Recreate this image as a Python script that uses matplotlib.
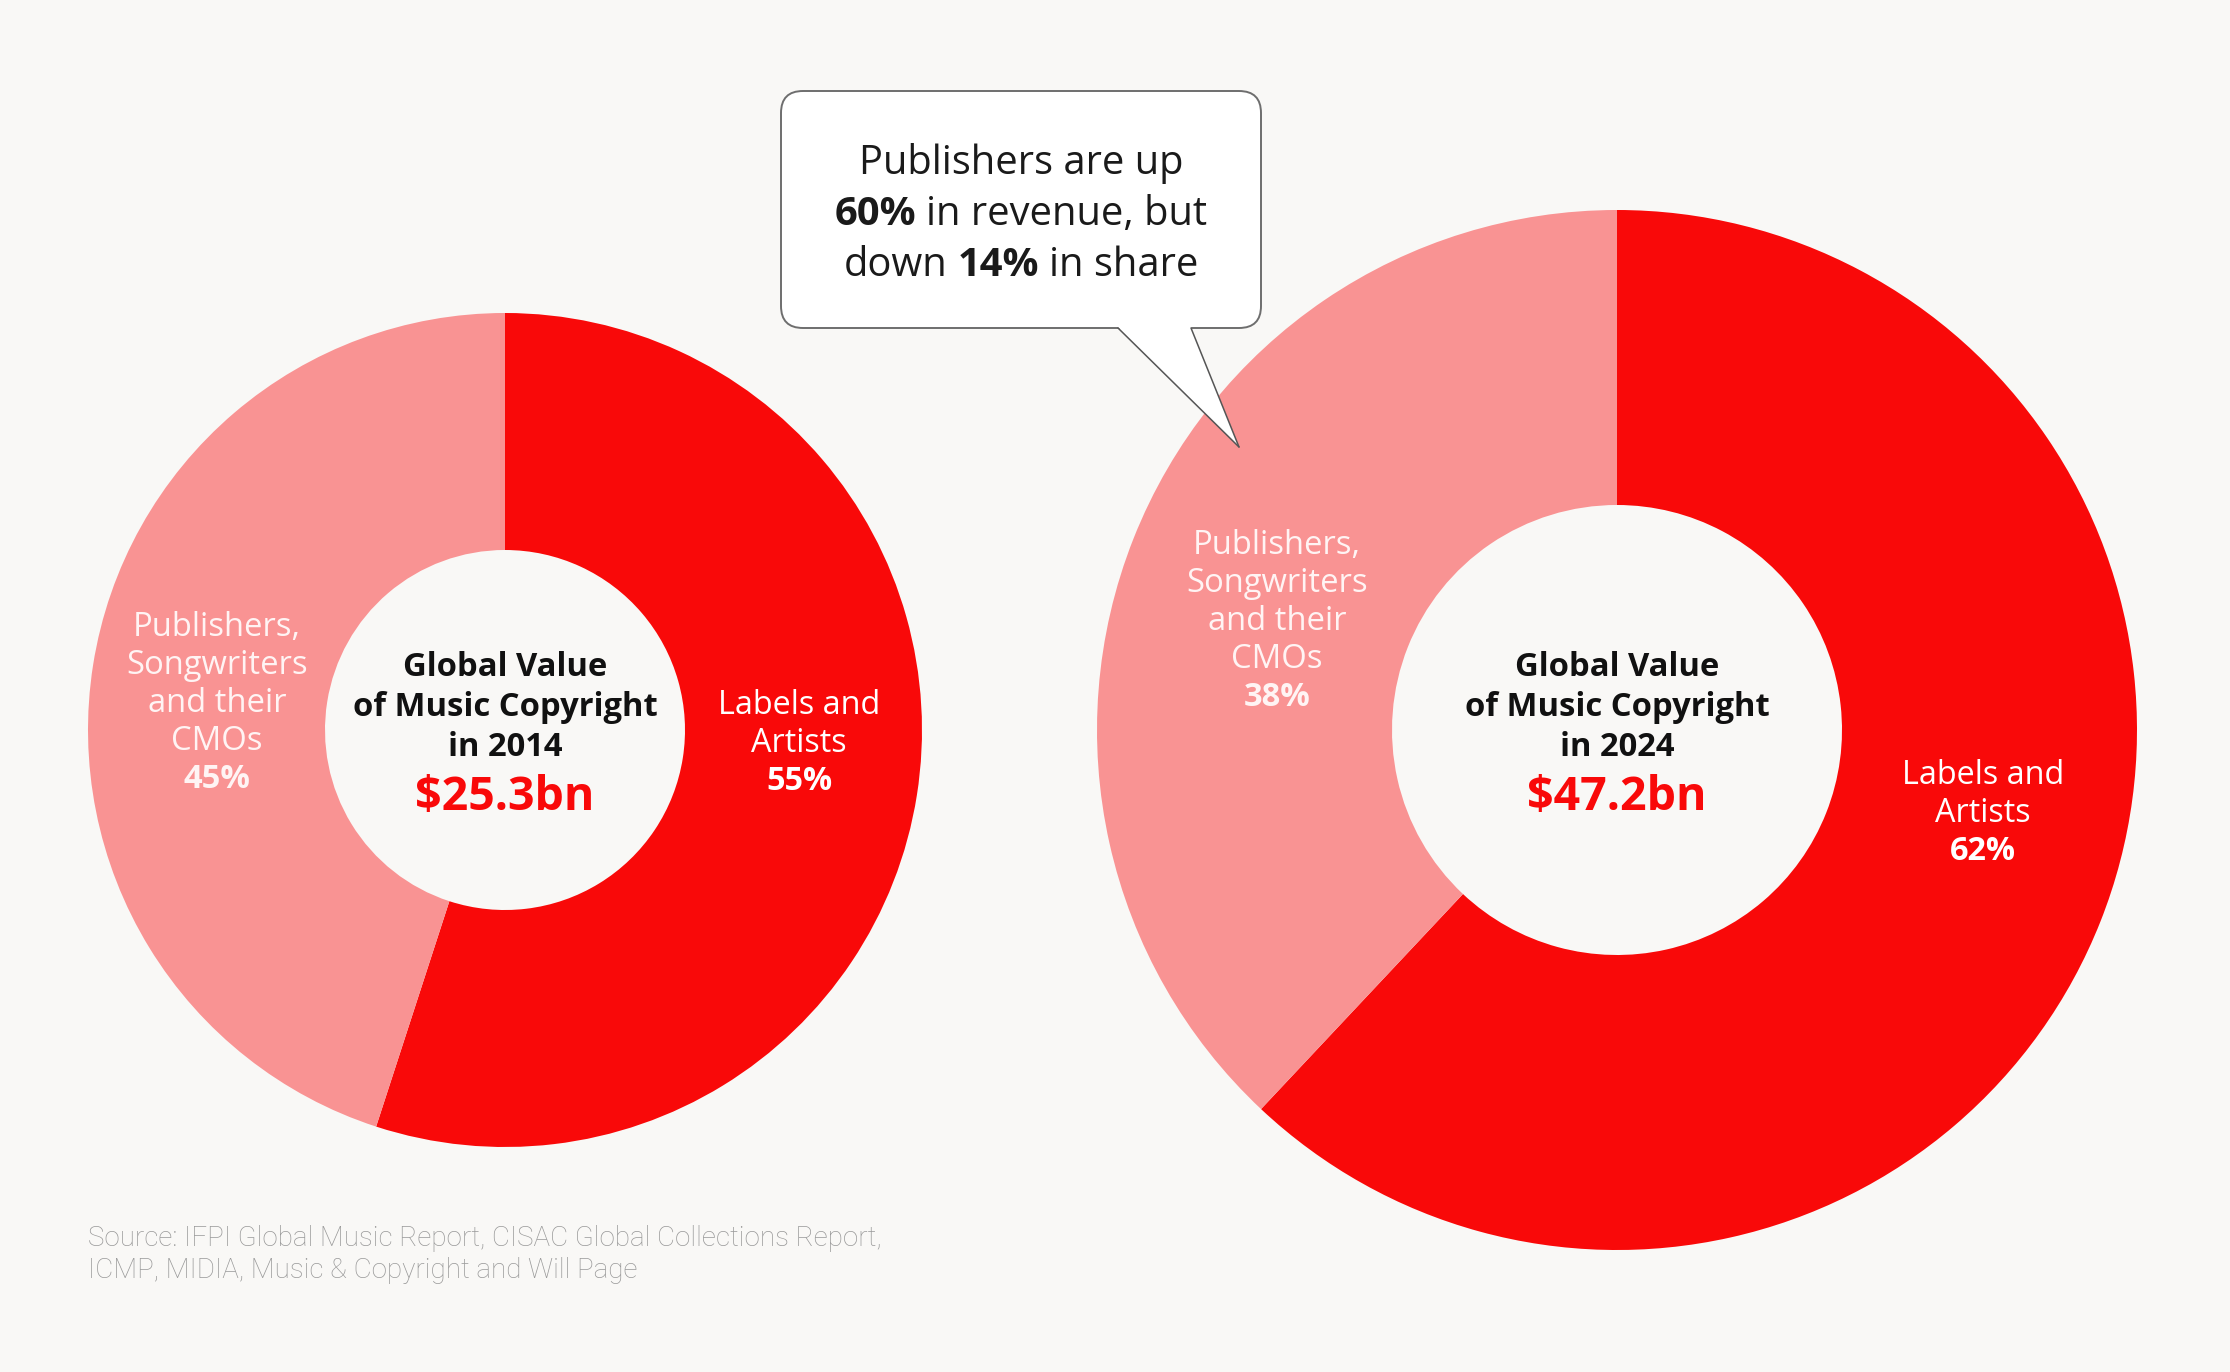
import matplotlib
matplotlib.use("Agg")
import matplotlib.pyplot as plt
from matplotlib.patches import FancyBboxPatch, Polygon

# data
years = ["2014", "2024"]
totals = ["$25.3bn", "$47.2bn"]
labels_share = [55, 62]
publishers_share = [45, 38]
labels_name = ["Labels and", "Artists"]
publishers_name = ["Publishers,", "Songwriters", "and their", "CMOs"]
callout_lines = [
    [("Publishers are up", "normal")],
    [("60%", "bold"), ("in revenue, but", "normal")],
    [("down", "normal"), ("14%", "bold"), ("in share", "normal")],
]
source_text = ("Source: IFPI Global Music Report, CISAC Global Collections Report,\n"
               "ICMP, MIDIA, Music & Copyright and Will Page")

RED = "#F90909"
PINK = "#F99393"
BG = "#F9F8F6"
FONT = "Open Sans"

W, H = 2230, 1372
plt.rcParams["font.family"] = [FONT, "DejaVu Sans"]

fig = plt.figure(figsize=(W / 100, H / 100), dpi=100, facecolor=BG)
ax = fig.add_axes([0, 0, 1, 1])
ax.set_facecolor(BG)


def iy(y):
    # image row -> data y (y up)
    return H - y


# donut geometry (pixels): centre x, centre y, outer r, inner r
donuts = [(505, 730, 417, 180), (1617, 730, 520, 225)]

for i, (cx, cy, R, r) in enumerate(donuts):
    ax.pie([labels_share[i], publishers_share[i]], colors=[RED, PINK],
           startangle=90, counterclock=False, radius=R, center=(cx, iy(cy)),
           wedgeprops=dict(width=R - r, linewidth=0), frame=False)

ax.set_xlim(0, W)
ax.set_ylim(0, H)
ax.set_aspect("equal")
ax.axis("off")

# centre texts
for i, (cx, cy, R, r) in enumerate(donuts):
    for k, line in enumerate(["Global Value", "of Music Copyright", "in " + years[i]]):
        ax.text(cx, iy(667 + 40 * k), line, ha="center", va="center",
                fontsize=23.6, fontweight="bold", color="#111111")
    ax.text(cx, iy(797), totals[i], ha="center", va="center",
            fontsize=33.5, fontweight="bold", color=RED)

# segment labels
label_pos = [(799, 705), (1983, 775)]
pub_pos = [(217, 627), (1277, 545)]
for i in range(2):
    x, y = label_pos[i]
    for k, s in enumerate(labels_name):
        ax.text(x, iy(y + 38 * k), s, ha="center", va="center",
                fontsize=23.3, color="white")
    ax.text(x, iy(y + 38 * 2), f"{labels_share[i]}%", ha="center", va="center",
            fontsize=23.3, fontweight="bold", color="white")
    x, y = pub_pos[i]
    for k, s in enumerate(publishers_name):
        ax.text(x, iy(y + 38 * k), s, ha="center", va="center",
                fontsize=23.6, color="#FFF4F4")
    ax.text(x, iy(y + 38 * 4), f"{publishers_share[i]}%", ha="center", va="center",
            fontsize=23.6, fontweight="bold", color="#FFF4F4")

# callout box
bx0, by0, bx1, by1 = 781, 91, 1261, 328
box = FancyBboxPatch((bx0, iy(by1)), bx1 - bx0, by1 - by0,
                     boxstyle="round,pad=0,rounding_size=22",
                     facecolor="white", edgecolor="#6E6E6E", linewidth=1.4, zorder=5)
ax.add_patch(box)
tail_a, tail_b, tip = (1118, 328), (1191, 328), (1239, 447)
ax.add_patch(Polygon([(tail_a[0] + 1, iy(326)), (tail_b[0] - 1, iy(326)),
                      (tip[0], iy(tip[1]))], closed=True, facecolor="white",
                     edgecolor="none", zorder=6))
ax.add_patch(Polygon([(tail_a[0], iy(tail_a[1] - 1)), (tail_b[0], iy(tail_b[1] - 1)),
                      (tip[0], iy(tip[1]))], closed=True, facecolor="white",
                     edgecolor="none", zorder=6))
for p in (tail_a, tail_b):
    ax.plot([p[0], tip[0]], [iy(p[1]), iy(tip[1])], color="#555555", lw=1.1,
            zorder=7, solid_capstyle="round")

renderer = fig.canvas.get_renderer()


def width_of(s, weight, size):
    t = ax.text(0, 0, s, fontsize=size, fontweight=weight)
    w = t.get_window_extent(renderer).width
    t.remove()
    return w


csize = 28.7
space = width_of("x x", "normal", csize) - width_of("xx", "normal", csize)
cx_box = (bx0 + bx1) / 2
for k, parts in enumerate(callout_lines):
    ws = [width_of(s, wt, csize) for s, wt in parts]
    total = sum(ws) + space * (len(parts) - 1)
    x = cx_box - total / 2
    for (s, wt), w in zip(parts, ws):
        ax.text(x, iy(163 + 51.5 * k), s, ha="left", va="center", fontsize=csize,
                fontweight=wt, color="#1A1A1A", zorder=8)
        x += w + space

# source
ax.text(88, iy(1225), source_text, ha="left", va="top", fontsize=20,
        color="#999999", linespacing=1.25, family=["Roboto", "DejaVu Sans"],
        fontweight="light")

fig.savefig("out.png", dpi=100, facecolor=BG)
